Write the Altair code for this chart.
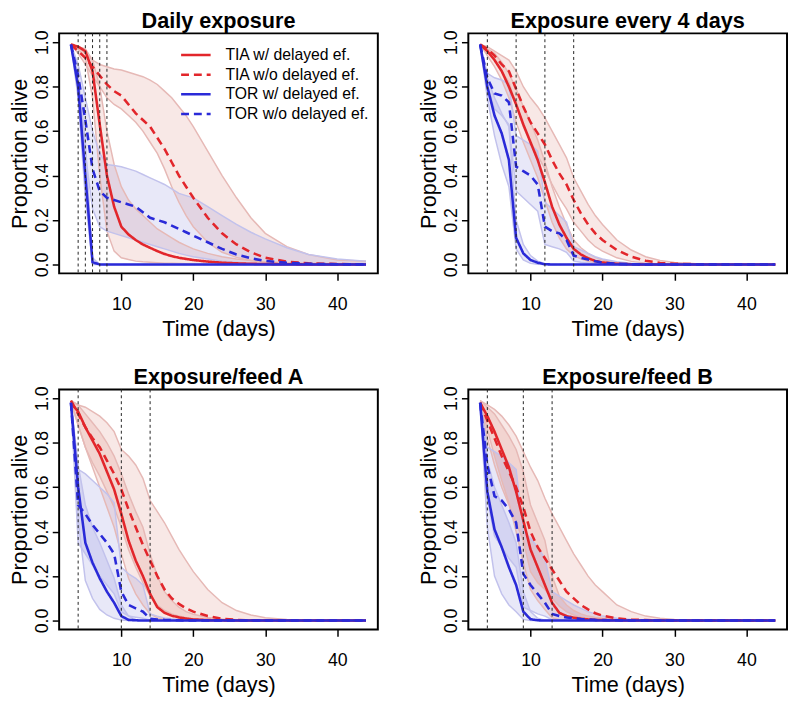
import altair as alt
import pandas as pd

FONT = "Liberation Sans"

# Days at which the curves are read
T = [3, 4, 5, 6, 7, 8, 9, 10,
     11, 12, 13, 14, 15, 16, 17, 18, 19, 20,
     22, 24, 26, 28, 30, 33, 36, 40, 44]

SERIES = ["TIA w/ delayed ef.", "TIA w/o delayed ef.",
          "TOR w/ delayed ef.", "TOR w/o delayed ef."]
BANDS = ["TIA w/ band", "TIA w/o band", "TOR w/ band", "TOR w/o band"]

TITLES = ["Daily exposure", "Exposure every 4 days", "Exposure/feed A", "Exposure/feed B"]
VLINES = [[4, 5, 6, 7, 8], [4, 8, 12, 16], [4, 10, 14], [4, 9, 13]]

X_TICKS = [10, 20, 30, 40]
Y_TICKS = [0.0, 0.2, 0.4, 0.6, 0.8, 1.0]

# ---------------- Panel 1: Daily exposure ----------------
P1_TIA_W = [0.99, 0.98, 0.96, 0.87, 0.63, 0.40, 0.26, 0.17,
            0.135, 0.11, 0.09, 0.075, 0.06, 0.047, 0.038, 0.03, 0.025, 0.02,
            0.013, 0.008, 0.005, 0.003, 0.002, 0.001, 0, 0, 0]
P1_TIA_W_LO = [0.99, 0.97, 0.93, 0.75, 0.40, 0.15, 0.06, 0.03,
               0.022, 0.015, 0.012, 0.01, 0.008, 0.006, 0.005, 0.004, 0.003, 0.002,
               0.001, 0, 0, 0, 0, 0, 0, 0, 0]
P1_TIA_W_HI = [0.99, 0.98, 0.97, 0.92, 0.80, 0.60, 0.45, 0.35,
               0.29, 0.25, 0.22, 0.19, 0.16, 0.14, 0.12, 0.10, 0.085, 0.07,
               0.05, 0.035, 0.025, 0.018, 0.012, 0.008, 0.005, 0.003, 0.002]
P1_TIA_WO = [0.99, 0.96, 0.93, 0.89, 0.85, 0.81, 0.78, 0.76,
             0.72, 0.68, 0.65, 0.62, 0.57, 0.52, 0.46, 0.40, 0.35, 0.30,
             0.21, 0.14, 0.09, 0.055, 0.03, 0.013, 0.005, 0.002, 0]
P1_TIA_WO_LO = [0.99, 0.95, 0.90, 0.85, 0.80, 0.75, 0.72, 0.70,
                0.67, 0.64, 0.60, 0.55, 0.50, 0.43, 0.35, 0.28, 0.22, 0.17,
                0.10, 0.055, 0.032, 0.018, 0.01, 0.005, 0.002, 0.001, 0]
P1_TIA_WO_HI = [0.99, 0.98, 0.95, 0.92, 0.90, 0.89, 0.88, 0.875,
                0.865, 0.855, 0.845, 0.83, 0.81, 0.78, 0.75, 0.71, 0.67, 0.62,
                0.51, 0.40, 0.30, 0.21, 0.14, 0.08, 0.045, 0.02, 0.015]
P1_TOR_W = [0.99, 0.80, 0.40, 0.01, 0, 0, 0, 0,
            0, 0, 0, 0, 0, 0, 0, 0, 0, 0,
            0, 0, 0, 0, 0, 0, 0, 0, 0]
P1_TOR_W_LO = [0.99, 0.75, 0.30, 0, 0, 0, 0, 0,
               0, 0, 0, 0, 0, 0, 0, 0, 0, 0,
               0, 0, 0, 0, 0, 0, 0, 0, 0]
P1_TOR_W_HI = [0.99, 0.85, 0.55, 0.03, 0, 0, 0, 0,
               0, 0, 0, 0, 0, 0, 0, 0, 0, 0,
               0, 0, 0, 0, 0, 0, 0, 0, 0]
P1_TOR_WO = [0.99, 0.85, 0.65, 0.43, 0.33, 0.30, 0.29, 0.28,
             0.27, 0.26, 0.235, 0.21, 0.20, 0.19, 0.175, 0.16, 0.145, 0.13,
             0.10, 0.07, 0.045, 0.028, 0.016, 0.008, 0.003, 0.001, 0]
P1_TOR_WO_LO = [0.99, 0.80, 0.50, 0.25, 0.17, 0.15, 0.14, 0.13,
                0.12, 0.11, 0.10, 0.09, 0.08, 0.07, 0.06, 0.05, 0.042, 0.035,
                0.025, 0.015, 0.01, 0.006, 0.004, 0.002, 0.001, 0, 0]
P1_TOR_WO_HI = [0.99, 0.90, 0.75, 0.60, 0.50, 0.45, 0.445, 0.44,
                0.43, 0.42, 0.405, 0.39, 0.375, 0.36, 0.34, 0.32, 0.31, 0.30,
                0.26, 0.22, 0.18, 0.145, 0.115, 0.075, 0.045, 0.025, 0.015]

# ---------------- Panel 2: Exposure every 4 days ----------------
P2_TIA_W = [0.99, 0.96, 0.92, 0.87, 0.80, 0.72, 0.63, 0.55,
            0.47, 0.37, 0.26, 0.18, 0.12, 0.07, 0.045, 0.028, 0.016, 0.009,
            0.003, 0.001, 0, 0, 0, 0, 0, 0, 0]
P2_TIA_W_LO = [0.99, 0.94, 0.89, 0.83, 0.75, 0.64, 0.55, 0.47,
               0.39, 0.29, 0.19, 0.12, 0.07, 0.04, 0.025, 0.014, 0.008, 0.004,
               0.001, 0, 0, 0, 0, 0, 0, 0, 0]
P2_TIA_W_HI = [0.99, 0.97, 0.95, 0.91, 0.86, 0.79, 0.71, 0.64,
               0.56, 0.46, 0.35, 0.26, 0.18, 0.11, 0.075, 0.05, 0.032, 0.02,
               0.008, 0.003, 0.001, 0, 0, 0, 0, 0, 0]
P2_TIA_WO = [0.99, 0.97, 0.94, 0.90, 0.87, 0.79, 0.71, 0.64,
             0.59, 0.54, 0.47, 0.41, 0.36, 0.29, 0.23, 0.18, 0.14, 0.11,
             0.065, 0.035, 0.017, 0.007, 0.003, 0.001, 0, 0, 0]
P2_TIA_WO_LO = [0.99, 0.96, 0.92, 0.87, 0.82, 0.72, 0.62, 0.55,
                0.49, 0.43, 0.36, 0.30, 0.25, 0.19, 0.15, 0.11, 0.08, 0.06,
                0.03, 0.014, 0.006, 0.002, 0.001, 0, 0, 0, 0]
P2_TIA_WO_HI = [0.99, 0.98, 0.96, 0.94, 0.92, 0.87, 0.80, 0.75,
                0.71, 0.66, 0.60, 0.54, 0.48, 0.39, 0.33, 0.27, 0.22, 0.18,
                0.11, 0.065, 0.035, 0.018, 0.009, 0.003, 0.001, 0, 0]
P2_TOR_W = [0.99, 0.80, 0.67, 0.59, 0.47, 0.12, 0.05, 0.02,
            0.008, 0.001, 0, 0, 0, 0, 0, 0, 0, 0,
            0, 0, 0, 0, 0, 0, 0, 0, 0]
P2_TOR_W_LO = [0.99, 0.75, 0.58, 0.45, 0.35, 0.07, 0.02, 0.005,
               0.001, 0, 0, 0, 0, 0, 0, 0, 0, 0,
               0, 0, 0, 0, 0, 0, 0, 0, 0]
P2_TOR_W_HI = [0.99, 0.84, 0.75, 0.68, 0.62, 0.20, 0.09, 0.04,
               0.015, 0.003, 0, 0, 0, 0, 0, 0, 0, 0,
               0, 0, 0, 0, 0, 0, 0, 0, 0]
P2_TOR_WO = [0.99, 0.84, 0.77, 0.76, 0.73, 0.44, 0.42, 0.40,
             0.36, 0.17, 0.15, 0.14, 0.11, 0.04, 0.03, 0.022, 0.014, 0.008,
             0.003, 0.001, 0, 0, 0, 0, 0, 0, 0]
P2_TOR_WO_LO = [0.99, 0.80, 0.70, 0.67, 0.63, 0.33, 0.30, 0.27,
                0.24, 0.09, 0.08, 0.07, 0.055, 0.015, 0.01, 0.007, 0.004, 0.002,
                0, 0, 0, 0, 0, 0, 0, 0, 0]
P2_TOR_WO_HI = [0.99, 0.86, 0.84, 0.83, 0.81, 0.58, 0.56, 0.54,
                0.51, 0.28, 0.25, 0.22, 0.19, 0.08, 0.065, 0.05, 0.035, 0.025,
                0.012, 0.006, 0.003, 0.001, 0, 0, 0, 0, 0]

# ---------------- Panel 3: Exposure/feed A ----------------
P3_TIA_W = [0.98, 0.94, 0.87, 0.81, 0.75, 0.67, 0.59, 0.48,
            0.36, 0.27, 0.20, 0.12, 0.06, 0.035, 0.022, 0.014, 0.009, 0.005,
            0.002, 0.001, 0, 0, 0, 0, 0, 0, 0]
P3_TIA_W_LO = [0.98, 0.88, 0.78, 0.69, 0.60, 0.51, 0.42, 0.30,
               0.19, 0.12, 0.07, 0.03, 0.012, 0.006, 0.003, 0.001, 0, 0,
               0, 0, 0, 0, 0, 0, 0, 0, 0]
P3_TIA_W_HI = [0.99, 0.97, 0.93, 0.89, 0.85, 0.80, 0.74, 0.66,
               0.57, 0.49, 0.42, 0.30, 0.20, 0.13, 0.09, 0.06, 0.04, 0.028,
               0.014, 0.007, 0.004, 0.002, 0.001, 0, 0, 0, 0]
P3_TIA_WO = [0.99, 0.93, 0.87, 0.82, 0.78, 0.72, 0.66, 0.59,
             0.50, 0.42, 0.34, 0.27, 0.20, 0.14, 0.10, 0.075, 0.055, 0.04,
             0.02, 0.008, 0.003, 0.001, 0, 0, 0, 0, 0]
P3_TIA_WO_LO = [0.99, 0.88, 0.78, 0.71, 0.65, 0.58, 0.51, 0.42,
                0.32, 0.24, 0.17, 0.11, 0.07, 0.045, 0.03, 0.02, 0.013, 0.008,
                0.003, 0.001, 0, 0, 0, 0, 0, 0, 0]
P3_TIA_WO_HI = [0.99, 0.97, 0.96, 0.94, 0.92, 0.89, 0.85, 0.77,
                0.74, 0.70, 0.64, 0.54, 0.49, 0.44, 0.38, 0.32, 0.27, 0.22,
                0.14, 0.08, 0.045, 0.025, 0.013, 0.005, 0.002, 0, 0]
P3_TOR_W = [0.98, 0.60, 0.35, 0.26, 0.19, 0.13, 0.08, 0.02,
            0.003, 0.001, 0, 0, 0, 0, 0, 0, 0, 0,
            0, 0, 0, 0, 0, 0, 0, 0, 0]
P3_TOR_W_LO = [0.98, 0.45, 0.18, 0.10, 0.05, 0.025, 0.01, 0.002,
               0, 0, 0, 0, 0, 0, 0, 0, 0, 0,
               0, 0, 0, 0, 0, 0, 0, 0, 0]
P3_TOR_W_HI = [0.98, 0.70, 0.52, 0.42, 0.35, 0.27, 0.19, 0.07,
               0.02, 0.005, 0, 0, 0, 0, 0, 0, 0, 0,
               0, 0, 0, 0, 0, 0, 0, 0, 0]
P3_TOR_WO = [0.98, 0.52, 0.48, 0.43, 0.39, 0.35, 0.30, 0.13,
             0.07, 0.055, 0.04, 0.008, 0.005, 0.003, 0.002, 0.001, 0, 0,
             0, 0, 0, 0, 0, 0, 0, 0, 0]
P3_TOR_WO_LO = [0.98, 0.35, 0.30, 0.25, 0.20, 0.16, 0.12, 0.04,
                0.02, 0.015, 0.01, 0.001, 0, 0, 0, 0, 0, 0,
                0, 0, 0, 0, 0, 0, 0, 0, 0]
P3_TOR_WO_HI = [0.98, 0.68, 0.66, 0.63, 0.60, 0.57, 0.53, 0.24,
                0.21, 0.19, 0.16, 0.03, 0.02, 0.012, 0.008, 0.005, 0.003, 0.002,
                0, 0, 0, 0, 0, 0, 0, 0, 0]

# ---------------- Panel 4: Exposure/feed B ----------------
P4_TIA_W = [0.98, 0.92, 0.85, 0.77, 0.69, 0.58, 0.45, 0.32,
            0.24, 0.16, 0.08, 0.035, 0.02, 0.013, 0.008, 0.005, 0.003, 0.002,
            0.001, 0, 0, 0, 0, 0, 0, 0, 0]
P4_TIA_W_LO = [0.98, 0.86, 0.74, 0.63, 0.53, 0.40, 0.26, 0.14,
               0.09, 0.05, 0.012, 0.004, 0.001, 0, 0, 0, 0, 0,
               0, 0, 0, 0, 0, 0, 0, 0, 0]
P4_TIA_W_HI = [0.99, 0.96, 0.93, 0.88, 0.83, 0.77, 0.67, 0.52,
               0.44, 0.36, 0.20, 0.11, 0.07, 0.045, 0.03, 0.02, 0.014, 0.01,
               0.005, 0.002, 0.001, 0, 0, 0, 0, 0, 0]
P4_TIA_WO = [0.98, 0.90, 0.82, 0.74, 0.67, 0.60, 0.51, 0.40,
             0.33, 0.28, 0.23, 0.18, 0.13, 0.10, 0.07, 0.05, 0.033, 0.022,
             0.01, 0.004, 0.002, 0.001, 0, 0, 0, 0, 0]
P4_TIA_WO_LO = [0.98, 0.82, 0.70, 0.60, 0.52, 0.44, 0.36, 0.22,
                0.17, 0.14, 0.10, 0.065, 0.04, 0.025, 0.015, 0.01, 0.006, 0.004,
                0.001, 0, 0, 0, 0, 0, 0, 0, 0]
P4_TIA_WO_HI = [0.99, 0.97, 0.95, 0.92, 0.88, 0.83, 0.76, 0.69,
                0.63, 0.55, 0.48, 0.42, 0.36, 0.30, 0.25, 0.20, 0.16, 0.13,
                0.07, 0.04, 0.02, 0.01, 0.005, 0.002, 0, 0, 0]
P4_TOR_W = [0.98, 0.58, 0.41, 0.33, 0.24, 0.16, 0.04, 0.006,
            0.001, 0, 0, 0, 0, 0, 0, 0, 0, 0,
            0, 0, 0, 0, 0, 0, 0, 0, 0]
P4_TOR_W_LO = [0.98, 0.42, 0.20, 0.12, 0.07, 0.04, 0.005, 0,
               0, 0, 0, 0, 0, 0, 0, 0, 0, 0,
               0, 0, 0, 0, 0, 0, 0, 0, 0]
P4_TOR_W_HI = [0.98, 0.72, 0.60, 0.52, 0.44, 0.35, 0.13, 0.04,
               0.01, 0.002, 0, 0, 0, 0, 0, 0, 0, 0,
               0, 0, 0, 0, 0, 0, 0, 0, 0]
P4_TOR_WO = [0.98, 0.70, 0.56, 0.54, 0.50, 0.44, 0.21, 0.16,
             0.12, 0.08, 0.03, 0.02, 0.014, 0.01, 0.007, 0.005, 0.003, 0.002,
             0.001, 0, 0, 0, 0, 0, 0, 0, 0]
P4_TOR_WO_LO = [0.98, 0.55, 0.38, 0.33, 0.28, 0.24, 0.06, 0.045,
                0.03, 0.02, 0.004, 0.002, 0.001, 0, 0, 0, 0, 0,
                0, 0, 0, 0, 0, 0, 0, 0, 0]
P4_TOR_WO_HI = [0.98, 0.78, 0.76, 0.74, 0.71, 0.68, 0.40, 0.37,
                0.33, 0.28, 0.13, 0.11, 0.09, 0.07, 0.055, 0.04, 0.03, 0.02,
                0.01, 0.005, 0.002, 0.001, 0, 0, 0, 0, 0]

PANEL_DATA = [
    [(P1_TIA_W, P1_TIA_W_LO, P1_TIA_W_HI), (P1_TIA_WO, P1_TIA_WO_LO, P1_TIA_WO_HI),
     (P1_TOR_W, P1_TOR_W_LO, P1_TOR_W_HI), (P1_TOR_WO, P1_TOR_WO_LO, P1_TOR_WO_HI)],
    [(P2_TIA_W, P2_TIA_W_LO, P2_TIA_W_HI), (P2_TIA_WO, P2_TIA_WO_LO, P2_TIA_WO_HI),
     (P2_TOR_W, P2_TOR_W_LO, P2_TOR_W_HI), (P2_TOR_WO, P2_TOR_WO_LO, P2_TOR_WO_HI)],
    [(P3_TIA_W, P3_TIA_W_LO, P3_TIA_W_HI), (P3_TIA_WO, P3_TIA_WO_LO, P3_TIA_WO_HI),
     (P3_TOR_W, P3_TOR_W_LO, P3_TOR_W_HI), (P3_TOR_WO, P3_TOR_WO_LO, P3_TOR_WO_HI)],
    [(P4_TIA_W, P4_TIA_W_LO, P4_TIA_W_HI), (P4_TIA_WO, P4_TIA_WO_LO, P4_TIA_WO_HI),
     (P4_TOR_W, P4_TOR_W_LO, P4_TOR_W_HI), (P4_TOR_WO, P4_TOR_WO_LO, P4_TOR_WO_HI)],
]

LINE_COLORS = ["#E2262B", "#E2262B", "#2A2AD8", "#2A2AD8"]
BAND_FILLS = ["#CC4C40", "#CC4C40", "#5050CC", "#5050CC"]
BAND_EDGES = ["#E6B9B6", "#E6B9B6", "#C2C2EC", "#C2C2EC"]
DASHES = [[1, 0], [8, 5], [1, 0], [8, 5]]

W, H = 324, 244


def panel(idx, show_legend):
    rows = []
    for name, band, (v, lo, hi) in zip(SERIES, BANDS, PANEL_DATA[idx]):
        for t, a, b, c in zip(T, v, lo, hi):
            rows.append({"t": t, "v": a, "lo": b, "hi": c, "series": name, "band": band})
    df = pd.DataFrame(rows)
    vl = pd.DataFrame({"t": VLINES[idx]})

    xs = alt.Scale(domain=[1.36, 45.64], nice=False, zero=False)
    ys = alt.Scale(domain=[-0.04, 1.04], nice=False, zero=False)
    xax = alt.Axis(values=X_TICKS, title="Time (days)", labelPadding=16,
                   titlePadding=5, tickSize=7, labelAngle=0, labelFlush=False)
    yax = alt.Axis(values=Y_TICKS, format=".1f", title="Proportion alive",
                   labelAngle=270, labelAlign="center", labelBaseline="bottom",
                   labelPadding=1, titlePadding=2, tickSize=7, labelFlush=False)

    base = alt.Chart(df)
    fill_enc = alt.Fill("band:N", scale=alt.Scale(domain=BANDS, range=BAND_FILLS), legend=None)
    edge_enc = alt.Stroke("band:N", scale=alt.Scale(domain=BANDS, range=BAND_EDGES), legend=None)

    bands = base.mark_area(fillOpacity=0.13, clip=True).encode(
        x=alt.X("t:Q", scale=xs, axis=xax),
        y=alt.Y("lo:Q", scale=ys, axis=yax, stack=None),
        y2="hi:Q",
        fill=fill_enc,
    )
    edge_lo = base.mark_line(strokeWidth=1.5, clip=True).encode(
        x="t:Q", y="lo:Q", stroke=edge_enc)
    edge_hi = base.mark_line(strokeWidth=1.5, clip=True).encode(
        x="t:Q", y="hi:Q", stroke=edge_enc)

    if show_legend:
        leg = alt.Legend(title=None, orient="none", legendX=129, legendY=12,
                         labelFont=FONT, labelFontSize=16, labelColor="black",
                         labelLimit=0,
                         symbolType="M-1.765,0H1.765", symbolSize=289, symbolStrokeWidth=2.5,
                         labelOffset=20, rowPadding=2, padding=0)
    else:
        leg = None
    lines = base.mark_line(strokeWidth=2.6, clip=True).encode(
        x="t:Q", y="v:Q",
        color=alt.Color("series:N", scale=alt.Scale(domain=SERIES, range=LINE_COLORS), legend=leg),
        strokeDash=alt.StrokeDash("series:N", scale=alt.Scale(domain=SERIES, range=DASHES), legend=leg),
    )
    rules = alt.Chart(vl).mark_rule(color="#222222", strokeWidth=1, strokeDash=[3, 3]).encode(
        x="t:Q")

    return alt.layer(bands, edge_lo, edge_hi, lines, rules).properties(
        width=W, height=H,
        title=alt.TitleParams(TITLES[idx], fontSize=22, fontWeight="bold", font=FONT,
                              anchor="middle", frame="group", offset=-3, color="black"),
    )


def row(a, b):
    return alt.hconcat(a, b, spacing=39).resolve_scale(
        color="independent", strokeDash="independent", fill="independent", stroke="independent"
    ).resolve_legend(color="independent", strokeDash="independent")


chart = alt.vconcat(
    row(panel(0, True), panel(1, False)),
    row(panel(2, False), panel(3, False)),
    spacing=25,
).resolve_scale(
    color="independent", strokeDash="independent", fill="independent", stroke="independent"
).resolve_legend(
    color="independent", strokeDash="independent"
).properties(
    padding={"left": 0, "top": -5, "right": 0, "bottom": 0}, background="white"
).configure_view(
    stroke="black", strokeWidth=2
).configure_axis(
    domain=False, grid=False, tickColor="black", tickWidth=1.5,
    labelFont=FONT, labelFontSize=18, labelColor="black",
    titleFont=FONT, titleFontSize=22, titleFontWeight="normal", titleColor="black",
    labelOverlap=False,
)

chart.save("out.html", embed_options={"renderer": "svg", "actions": False})
